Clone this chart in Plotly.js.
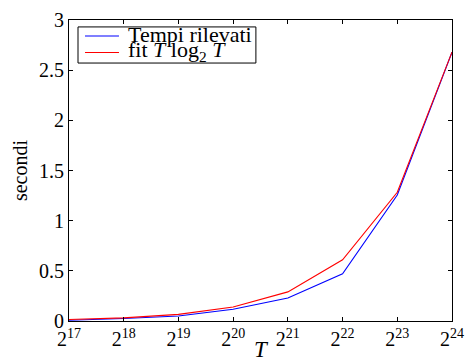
<!DOCTYPE html>
<html><head><meta charset="utf-8">
<script src="https://cdn.plot.ly/plotly-3.0.1.min.js"></script>
<style>html,body{margin:0;padding:0;background:#fff}#c{width:465px;height:362px}</style>
</head><body><div id="c"></div>
<script>
var exponents = [17, 18, 19, 20, 21, 22, 23, 24];
var tempiRilevati = [0.008, 0.025, 0.05, 0.117, 0.23, 0.47, 1.256, 2.68];
var fitTlogT = [0.015, 0.031, 0.066, 0.14, 0.29, 0.61, 1.283, 2.68];
var seriesNames = ['Tempi rilevati', 'fit <i>T</i> log<sub>2</sub> <i>T</i>'];
var seriesColors = ['#0000ff', '#ff0000'];
var xTickLabels = exponents.map(function(e){ return '2<sup>' + e + '</sup>'; });
var yTickVals = [0, 0.5, 1, 1.5, 2, 2.5, 3];
var yTickLabels = ['0', '0.5', '1', '1.5', '2', '2.5', '3'];

var font = 'Liberation Serif, DejaVu Serif, serif';
var traces = [
  {x: exponents, y: tempiRilevati, mode: 'lines', name: seriesNames[0], line: {color: seriesColors[0], width: 1.1}},
  {x: exponents, y: fitTlogT, mode: 'lines', name: seriesNames[1], line: {color: seriesColors[1], width: 1.1}}
];
var axisCommon = {showgrid: false, zeroline: false, showline: true, linecolor: '#000', linewidth: 1, mirror: 'ticks',
  ticks: 'inside', ticklen: 4, tickcolor: '#000', tickfont: {family: font, size: 20, color: '#000'}};

// hand-built compact legend (box, sample lines, labels) in plot-area paper coordinates
var legRowY = [0.947, 0.892];
var shapes = [{type: 'rect', xref: 'paper', yref: 'paper', x0: 0.0235, x1: 0.488, y0: 0.857, y1: 0.977,
  line: {color: '#000', width: 1}, fillcolor: '#fff', layer: 'above'}];
var annotations = [];
for (var i = 0; i < 2; i++) {
  shapes.push({type: 'line', xref: 'paper', yref: 'paper', x0: 0.0418, x1: 0.1305, y0: legRowY[i], y1: legRowY[i],
    line: {color: seriesColors[i], width: 1.1}, layer: 'above'});
  annotations.push({xref: 'paper', yref: 'paper', x: 0.151, y: legRowY[i] + 0.004, xanchor: 'left', yanchor: 'middle',
    text: seriesNames[i], showarrow: false, font: {family: font, size: 22, color: '#000'}, borderpad: 0});
}

var layout = {
  width: 465, height: 362,
  margin: {l: 69, r: 13, t: 20, b: 41},
  paper_bgcolor: '#fff', plot_bgcolor: '#fff',
  showlegend: false,
  shapes: shapes,
  annotations: annotations,
  xaxis: Object.assign({}, axisCommon, {range: [17, 24], tickvals: exponents, ticktext: xTickLabels,
    title: {text: '<i>T</i>', font: {family: font, size: 23, color: '#000'}, standoff: 0}}),
  yaxis: Object.assign({}, axisCommon, {range: [0, 3], tickvals: yTickVals, ticktext: yTickLabels,
    title: {text: 'secondi', font: {family: font, size: 20, color: '#000'}, standoff: 6}})
};
Plotly.newPlot('c', traces, layout, {staticPlot: true});
</script></body></html>
